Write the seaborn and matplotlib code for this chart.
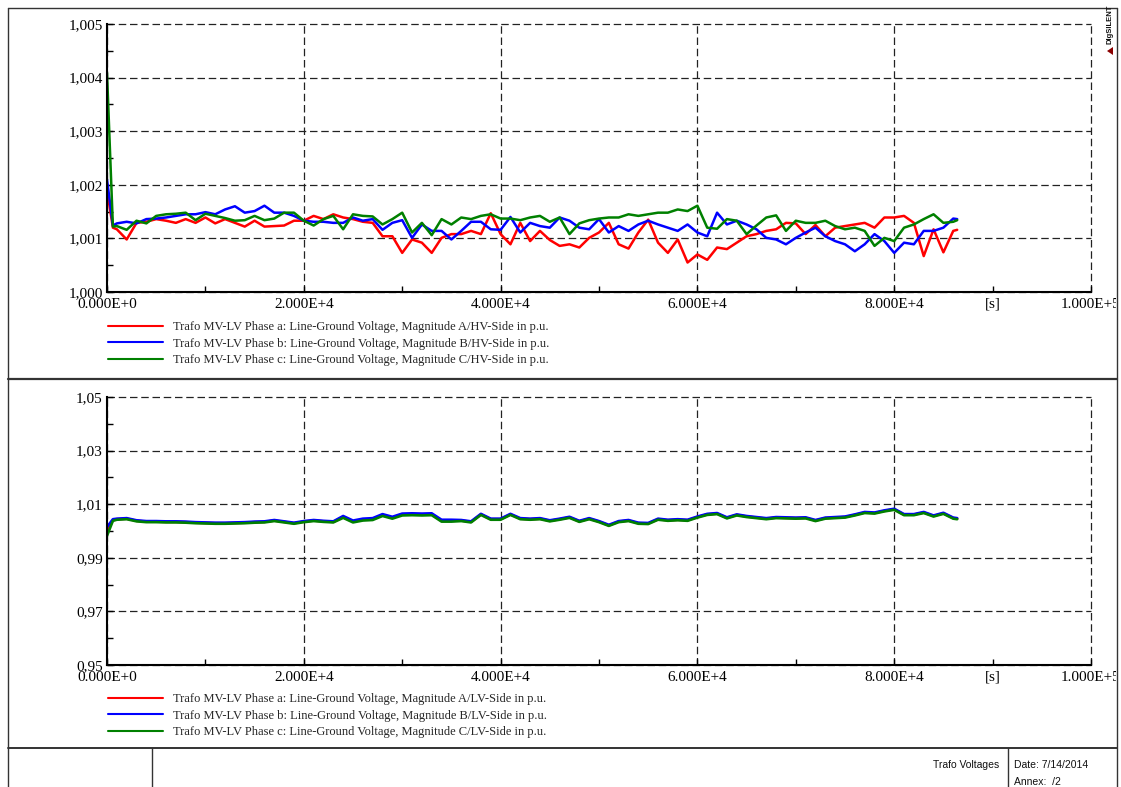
import matplotlib
matplotlib.use("Agg")
import matplotlib.pyplot as plt
import seaborn as sns
import pandas as pd
from matplotlib.lines import Line2D
from matplotlib.patches import Polygon, Rectangle
from matplotlib.ticker import FixedLocator, FixedFormatter

# ---------------- data ----------------
time_s = [0, 600] + list(range(1000, 86001, 1000)) + [86400]

hv_a = [1.00190, 1.00120,
        1.00117, 1.00098, 1.00129, 1.00131, 1.00136, 1.00133, 1.00129, 1.00136, 1.00129, 1.00139,
        1.00128, 1.00136, 1.00129, 1.00122, 1.00133, 1.00122, 1.00123, 1.00124, 1.00133, 1.00133,
        1.00142, 1.00136, 1.00145, 1.00139, 1.00136, 1.00131, 1.00129, 1.00104, 1.00104, 1.00073,
        1.00098, 1.00092, 1.00073, 1.00101, 1.00108, 1.00108, 1.00114, 1.00108, 1.00147, 1.00108,
        1.00089, 1.00129, 1.00095, 1.00114, 1.00097, 1.00086, 1.00089, 1.00083, 1.00101, 1.00111,
        1.00129, 1.00089, 1.00081, 1.00111, 1.00135, 1.00092, 1.00073, 1.00098, 1.00055, 1.00070,
        1.00060, 1.00083, 1.00080, 1.00092, 1.00104, 1.00108, 1.00114, 1.00117, 1.00129, 1.00128,
        1.00108, 1.00125, 1.00104, 1.00120, 1.00123, 1.00126, 1.00129, 1.00120, 1.00139, 1.00139,
        1.00142, 1.00129, 1.00067, 1.00117, 1.00074, 1.00114, 1.00116]
hv_b = [1.00210, 1.00124,
        1.00128, 1.00131, 1.00128, 1.00136, 1.00137, 1.00139, 1.00142, 1.00145, 1.00145, 1.00149,
        1.00145, 1.00154, 1.00160, 1.00148, 1.00151, 1.00161, 1.00148, 1.00148, 1.00142, 1.00133,
        1.00131, 1.00131, 1.00129, 1.00129, 1.00139, 1.00133, 1.00136, 1.00116, 1.00129, 1.00134,
        1.00101, 1.00126, 1.00114, 1.00114, 1.00098, 1.00114, 1.00131, 1.00131, 1.00117, 1.00116,
        1.00140, 1.00111, 1.00129, 1.00123, 1.00120, 1.00139, 1.00133, 1.00120, 1.00117, 1.00136,
        1.00111, 1.00123, 1.00114, 1.00126, 1.00133, 1.00126, 1.00120, 1.00114, 1.00126, 1.00111,
        1.00104, 1.00148, 1.00126, 1.00133, 1.00126, 1.00117, 1.00101, 1.00098, 1.00089, 1.00101,
        1.00111, 1.00120, 1.00104, 1.00095, 1.00089, 1.00076, 1.00089, 1.00108, 1.00095, 1.00073,
        1.00092, 1.00089, 1.00114, 1.00114, 1.00120, 1.00137, 1.00136]
hv_c = [1.00409, 1.00122,
        1.00123, 1.00116, 1.00133, 1.00128, 1.00142, 1.00145, 1.00146, 1.00148, 1.00134, 1.00146,
        1.00142, 1.00138, 1.00133, 1.00134, 1.00142, 1.00134, 1.00137, 1.00148, 1.00148, 1.00133,
        1.00124, 1.00136, 1.00142, 1.00117, 1.00145, 1.00142, 1.00141, 1.00126, 1.00136, 1.00148,
        1.00111, 1.00129, 1.00106, 1.00136, 1.00126, 1.00139, 1.00136, 1.00142, 1.00145, 1.00137,
        1.00137, 1.00134, 1.00139, 1.00142, 1.00131, 1.00139, 1.00108, 1.00128, 1.00134, 1.00137,
        1.00139, 1.00139, 1.00145, 1.00142, 1.00145, 1.00148, 1.00148, 1.00154, 1.00151, 1.00161,
        1.00120, 1.00118, 1.00136, 1.00133, 1.00108, 1.00124, 1.00139, 1.00143, 1.00114, 1.00133,
        1.00129, 1.00129, 1.00133, 1.00123, 1.00117, 1.00120, 1.00114, 1.00086, 1.00101, 1.00095,
        1.00120, 1.00126, 1.00136, 1.00145, 1.00129, 1.00131, 1.00134]

lv_a = [1.0000, 1.0040,
        1.0044, 1.0046, 1.0038, 1.0035, 1.0035, 1.0034, 1.0034, 1.0033, 1.0031, 1.0030,
        1.0029, 1.0029, 1.0030, 1.0031, 1.0033, 1.0034, 1.0039, 1.0034, 1.0029, 1.0035,
        1.0039, 1.0036, 1.0034, 1.0052, 1.0035, 1.0042, 1.0044, 1.0059, 1.0049, 1.0061,
        1.0062, 1.0061, 1.0062, 1.0038, 1.0038, 1.0039, 1.0034, 1.0062, 1.0044, 1.0044,
        1.0062, 1.0046, 1.0044, 1.0046, 1.0038, 1.0044, 1.0051, 1.0036, 1.0046, 1.0035,
        1.0021, 1.0035, 1.0039, 1.0029, 1.0028, 1.0044, 1.0040, 1.0042, 1.0040, 1.0052,
        1.0062, 1.0065, 1.0049, 1.0060, 1.0054, 1.0050, 1.0046, 1.0050, 1.0049, 1.0048,
        1.0049, 1.0039, 1.0048, 1.0050, 1.0052, 1.0060, 1.0069, 1.0067, 1.0075, 1.0081,
        1.0061, 1.0061, 1.0069, 1.0056, 1.0066, 1.0048, 1.0046]
lv_b = [1.0015, 1.0044,
        1.0046, 1.0048, 1.0040, 1.0037, 1.0037, 1.0036, 1.0036, 1.0035, 1.0033, 1.0032,
        1.0031, 1.0031, 1.0032, 1.0033, 1.0035, 1.0036, 1.0041, 1.0036, 1.0031, 1.0037,
        1.0041, 1.0038, 1.0036, 1.0056, 1.0039, 1.0046, 1.0048, 1.0063, 1.0053, 1.0065,
        1.0066, 1.0065, 1.0066, 1.0042, 1.0042, 1.0041, 1.0036, 1.0064, 1.0046, 1.0046,
        1.0064, 1.0048, 1.0046, 1.0048, 1.0040, 1.0046, 1.0053, 1.0038, 1.0048, 1.0037,
        1.0023, 1.0037, 1.0041, 1.0031, 1.0030, 1.0046, 1.0042, 1.0044, 1.0042, 1.0054,
        1.0064, 1.0067, 1.0051, 1.0062, 1.0056, 1.0052, 1.0048, 1.0052, 1.0051, 1.0050,
        1.0051, 1.0041, 1.0050, 1.0052, 1.0054, 1.0062, 1.0071, 1.0069, 1.0077, 1.0083,
        1.0063, 1.0063, 1.0071, 1.0058, 1.0068, 1.0050, 1.0048]
lv_c = [0.9982, 1.0038,
        1.0042, 1.0044, 1.0036, 1.0033, 1.0033, 1.0032, 1.0032, 1.0031, 1.0029, 1.0028,
        1.0027, 1.0027, 1.0028, 1.0029, 1.0031, 1.0032, 1.0037, 1.0032, 1.0027, 1.0033,
        1.0037, 1.0034, 1.0032, 1.0049, 1.0032, 1.0039, 1.0041, 1.0056, 1.0046, 1.0058,
        1.0059, 1.0058, 1.0059, 1.0035, 1.0035, 1.0037, 1.0032, 1.0060, 1.0042, 1.0042,
        1.0060, 1.0044, 1.0042, 1.0044, 1.0036, 1.0042, 1.0049, 1.0034, 1.0044, 1.0033,
        1.0019, 1.0033, 1.0037, 1.0027, 1.0026, 1.0042, 1.0038, 1.0040, 1.0038, 1.0050,
        1.0060, 1.0063, 1.0047, 1.0058, 1.0052, 1.0048, 1.0044, 1.0048, 1.0047, 1.0046,
        1.0047, 1.0037, 1.0046, 1.0048, 1.0050, 1.0058, 1.0067, 1.0065, 1.0073, 1.0079,
        1.0059, 1.0059, 1.0067, 1.0054, 1.0064, 1.0046, 1.0044]

phases = ["a", "b", "c"]
colors = {"a": "#ff0000", "b": "#0000ff", "c": "#008000"}
hv_labels = ["Trafo MV-LV Phase a: Line-Ground Voltage, Magnitude A/HV-Side in p.u.",
             "Trafo MV-LV Phase b: Line-Ground Voltage, Magnitude B/HV-Side in p.u.",
             "Trafo MV-LV Phase c: Line-Ground Voltage, Magnitude C/HV-Side in p.u."]
lv_labels = ["Trafo MV-LV Phase a: Line-Ground Voltage, Magnitude A/LV-Side in p.u.",
             "Trafo MV-LV Phase b: Line-Ground Voltage, Magnitude B/LV-Side in p.u.",
             "Trafo MV-LV Phase c: Line-Ground Voltage, Magnitude C/LV-Side in p.u."]

x_major = [0, 20000, 40000, 60000, 80000, 100000]
x_major_labels = ["0.000E+0", "2.000E+4", "4.000E+4", "6.000E+4", "8.000E+4", "1.000E+5"]
x_minor = [10000, 30000, 50000, 70000, 90000]
x_minor_labels = ["", "", "", "", "[s]"]

hv_ylim = (1.000, 1.005)
hv_major = [1.000, 1.001, 1.002, 1.003, 1.004, 1.005]
hv_minor = [1.0005, 1.0015, 1.0025, 1.0035, 1.0045]
hv_ticklabels = ["1,000", "1,001", "1,002", "1,003", "1,004", "1,005"]

lv_ylim = (0.95, 1.05)
lv_major = [0.95, 0.97, 0.99, 1.01, 1.03, 1.05]
lv_minor = [0.96, 0.98, 1.00, 1.02, 1.04]
lv_ticklabels = ["0,95", "0,97", "0,99", "1,01", "1,03", "1,05"]

# ---------------- figure ----------------
sns.set_theme(style="white")
plt.rcParams["font.family"] = ["Liberation Serif", "DejaVu Serif"]

W, H = 1121, 787
fig = plt.figure(figsize=(W / 100, H / 100), dpi=100)
fig.patch.set_facecolor("white")


def fx(px):
    return px / W


def fy(py):
    return 1 - py / H


ax1 = fig.add_axes([fx(107), fy(292), fx(1091) - fx(107), fy(24) - fy(292)])
ax2 = fig.add_axes([fx(107), fy(665), fx(1091) - fx(107), fy(397) - fy(665)])

clip_rect = Rectangle((0, 0), fx(1116), 1, transform=fig.transFigure,
                      facecolor="none", edgecolor="none")


def long_df(a, b, c):
    rows = []
    for ph, vals in zip(phases, [a, b, c]):
        assert len(vals) == len(time_s)
        for t, v in zip(time_s, vals):
            rows.append({"t": t, "v": v, "phase": ph})
    return pd.DataFrame(rows)


def style(ax, ylim, ymaj, ymin, ylab):
    ax.set_facecolor("white")
    ax.set_xlim(0, 100000)
    ax.set_ylim(*ylim)
    ax.xaxis.set_major_locator(FixedLocator(x_major))
    ax.xaxis.set_major_formatter(FixedFormatter(x_major_labels))
    ax.xaxis.set_minor_locator(FixedLocator(x_minor))
    ax.xaxis.set_minor_formatter(FixedFormatter(x_minor_labels))
    ax.yaxis.set_major_locator(FixedLocator(ymaj))
    ax.yaxis.set_major_formatter(FixedFormatter(ylab))
    ax.yaxis.set_minor_locator(FixedLocator(ymin))
    ax.set_xlabel("")
    ax.set_ylabel("")
    for s in ["top", "right"]:
        ax.spines[s].set_visible(False)
    for s in ["left", "bottom"]:
        ax.spines[s].set_visible(True)
        ax.spines[s].set_color("black")
        ax.spines[s].set_linewidth(1.5)
    ax.grid(True, which="major", linestyle=(0, (6, 3)), color="#222222", linewidth=0.9)
    ax.grid(False, which="minor")
    for gl in ax.get_xgridlines() + ax.get_ygridlines():
        gl.set_clip_on(False)
    ax.tick_params(which="both", direction="in", left=True, bottom=True,
                   top=False, right=False, colors="black", labelsize=11,
                   width=1.0)
    ax.tick_params(which="major", length=4)
    ax.tick_params(which="minor", length=4)
    ax.tick_params(axis="y", which="both", pad=3)
    ax.tick_params(axis="x", which="both", pad=4)
    ax.set_axisbelow(True)
    lab = ax.xaxis.get_major_ticks()[-1].label1
    lab.set_clip_on(True)
    lab.set_clip_path(clip_rect)


df_hv = long_df(hv_a, hv_b, hv_c)
df_lv = long_df(lv_a, lv_b, lv_c)

sns.lineplot(data=df_hv, x="t", y="v", hue="phase", hue_order=phases,
             palette=colors, linewidth=1.8, legend=False, ax=ax1, sort=False)
sns.lineplot(data=df_lv, x="t", y="v", hue="phase", hue_order=phases,
             palette=colors, linewidth=1.9, legend=False, ax=ax2, sort=False)

style(ax1, hv_ylim, hv_major, hv_minor, hv_ticklabels)
style(ax2, lv_ylim, lv_major, lv_minor, lv_ticklabels)

# legends
handles = [Line2D([], [], color=colors[p], lw=1.5) for p in phases]
leg_kw = dict(loc="upper left", frameon=False, fontsize=9, handlelength=4.4,
              handletextpad=0.8, labelspacing=0.36, borderpad=0, borderaxespad=0)
fig.legend(handles, hv_labels, bbox_to_anchor=(fx(108), fy(321)), **leg_kw)
fig.legend(handles, lv_labels, bbox_to_anchor=(fx(108), fy(693)), **leg_kw)

# page frame
frame_c = "#333333"
def fline(x0, y0, x1, y1, lw=1.0, c=frame_c):
    fig.add_artist(Line2D([fx(x0), fx(x1)], [fy(y0), fy(y1)], color=c, lw=lw,
                          transform=fig.transFigure))

fline(8, 8, 1117, 8)
fline(8, 8, 8, 787)
fline(1117, 8, 1117, 787)
fline(8, 379, 1117, 379, lw=1.6)
fline(8, 748, 1117, 748, lw=1.4)
fline(152, 748, 152, 787)
fline(1008, 748, 1008, 787)

foot_font = ["Liberation Sans Narrow", "Liberation Sans", "DejaVu Sans"]
fig.text(fx(999), fy(765), "Trafo Voltages", ha="right", va="center",
         fontsize=7.5, family=foot_font, color="#111111")
fig.text(fx(1014), fy(765), "Date: 7/14/2014", ha="left", va="center",
         fontsize=7.5, family=foot_font, color="#111111")
fig.text(fx(1014), fy(782), "Annex:  /2", ha="left", va="center",
         fontsize=7.5, family=foot_font, color="#111111")

# DIgSILENT mark
fig.text(fx(1110), fy(24), "DIgSILENT", rotation=90, ha="center", va="center",
         fontsize=5.5, fontweight="bold", family=["Liberation Sans", "DejaVu Sans"],
         color="#111111")
fig.add_artist(Polygon([[fx(1107), fy(51)], [fx(1113), fy(47)], [fx(1113), fy(55)]],
                       closed=True, transform=fig.transFigure, facecolor="#8b0000",
                       edgecolor="none"))

fig.savefig("out.png", dpi=100, facecolor="white")
